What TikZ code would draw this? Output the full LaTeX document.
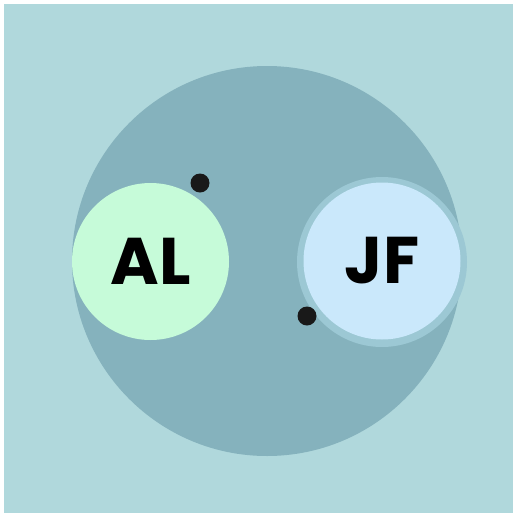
\documentclass[tikz,border=0pt]{standalone}
\usepackage{fontspec}
\setmainfont{Poppins}
\usetikzlibrary{backgrounds, positioning}
\definecolor{myPageColor}{HTML}{B0D8DC}
\definecolor{myRoomColor}{HTML}{85B2BD}
\definecolor{myAlColor}{HTML}{C6FBD9}
\definecolor{myJfColor}{HTML}{CAE8FB}
\definecolor{myJfRingColor}{HTML}{9CC8D4}
\newlength{\myDotSize}
\setlength{\myDotSize}{19pt}

\begin{document}
\begin{tikzpicture}[x=1pt, y=-1pt,
                    my person/.style={
                      circle, inner sep=0, minimum size=157pt,
                      font=\fontsize{66}{66}\selectfont\bfseries},
                    my dot/.style={
                      circle, fill=black!90, inner sep=0,
                      minimum size=\myDotSize}]

\useasboundingbox (0,0) rectangle (513,515);
\fill[white] (0,0) rectangle (513,515);
\fill[myPageColor] (4,4) rectangle (513,513);

\node (room) [circle, fill=myRoomColor, inner sep=0, minimum size=390pt]
  at (267,261) {};

\node (jf ring) [circle, fill=myJfRingColor, inner sep=0,
                 minimum size=170pt] at (382,262) {};
\node (jf) [my person, fill=myJfColor] at (382,261) {JF};
\node (al) [my person, fill=myAlColor] at (150.5,261.5) {AL};

\node (dot a) [my dot] at (200,183) {};
\node (dot b) [my dot] at (307,316) {};
\end{tikzpicture}
\end{document}
